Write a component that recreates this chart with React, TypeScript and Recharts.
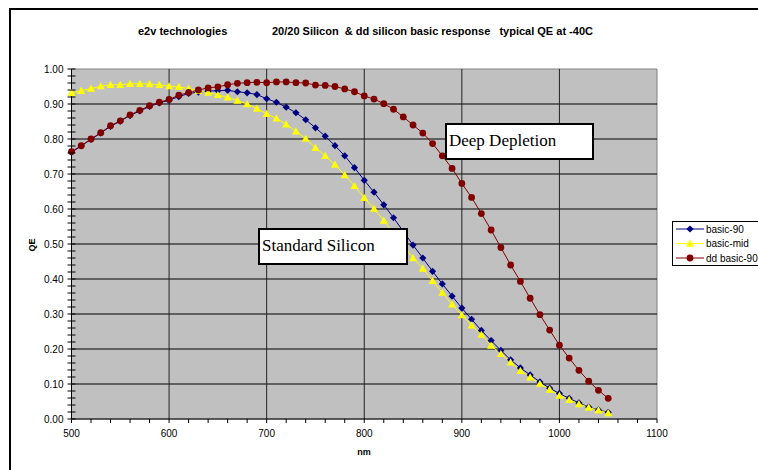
import React from "react";
import {
  LineChart,
  Line,
  XAxis,
  YAxis,
  ReferenceLine,
  ReferenceArea,
} from "recharts";

// wavelength in nm, one point every 10 nm
const wavelengths = [
  500, 510, 520, 530, 540, 550, 560, 570, 580, 590, 600, 610, 620, 630, 640, 650, 660, 670, 680, 690,
  700, 710, 720, 730, 740, 750, 760, 770, 780, 790, 800, 810, 820, 830, 840, 850, 860, 870, 880, 890,
  900, 910, 920, 930, 940, 950, 960, 970, 980, 990, 1000, 1010, 1020, 1030, 1040, 1050,
];

const basic90 = [
  0.762, 0.780, 0.799, 0.817, 0.836, 0.851, 0.867, 0.880, 0.893, 0.903, 0.911, 0.921, 0.930, 0.934, 0.937, 0.938, 0.939, 0.935, 0.932, 0.927,
  0.915, 0.905, 0.891, 0.875, 0.855, 0.832, 0.808, 0.781, 0.752, 0.718, 0.682, 0.648, 0.612, 0.575, 0.536, 0.497, 0.460, 0.422, 0.386, 0.351,
  0.317, 0.285, 0.253, 0.224, 0.196, 0.169, 0.146, 0.126, 0.106, 0.088, 0.073, 0.059, 0.046, 0.034, 0.026, 0.019,
];

const basicMid = [
  0.932, 0.938, 0.944, 0.951, 0.955, 0.955, 0.958, 0.958, 0.957, 0.955, 0.951, 0.949, 0.944, 0.938, 0.933, 0.926, 0.919, 0.910, 0.900, 0.887,
  0.872, 0.859, 0.842, 0.822, 0.801, 0.775, 0.752, 0.727, 0.697, 0.666, 0.632, 0.601, 0.567, 0.532, 0.496, 0.460, 0.430, 0.395, 0.361, 0.328,
  0.297, 0.268, 0.241, 0.210, 0.186, 0.162, 0.138, 0.119, 0.101, 0.084, 0.067, 0.055, 0.043, 0.033, 0.025, 0.017,
];

const ddBasic90 = [
  0.764, 0.781, 0.800, 0.818, 0.838, 0.852, 0.869, 0.882, 0.895, 0.905, 0.913, 0.925, 0.933, 0.940, 0.946, 0.949, 0.955, 0.959, 0.961, 0.962,
  0.961, 0.963, 0.963, 0.961, 0.960, 0.954, 0.953, 0.950, 0.943, 0.935, 0.923, 0.914, 0.901, 0.885, 0.863, 0.840, 0.817, 0.787, 0.752, 0.716,
  0.673, 0.633, 0.587, 0.540, 0.490, 0.440, 0.393, 0.345, 0.298, 0.254, 0.211, 0.174, 0.139, 0.108, 0.082, 0.059,
];

const gridX = [600, 700, 800, 900, 1000];
const gridY = [0.1, 0.2, 0.3, 0.4, 0.5, 0.6, 0.7, 0.8, 0.9];
// minor ticks every 20 nm and every 0.02 QE
const xTicks = Array.from({ length: 31 }, (_, i) => 500 + i * 20);
const yTicks = Array.from({ length: 51 }, (_, i) => Math.round(i * 2) / 100);

const data = wavelengths.map((nm, i) => ({
  nm,
  basic90: basic90[i],
  basicMid: basicMid[i],
  dd: ddBasic90[i],
}));

const BLUE = "#000080";
const YELLOW = "#FFFF00";
const RED = "#800000";

const font = "Arial, 'Liberation Sans', sans-serif";

function diamond(cx: number, cy: number, r: number) {
  return `${cx},${cy - r} ${cx + r},${cy} ${cx},${cy + r} ${cx - r},${cy}`;
}

function triangle(cx: number, cy: number, r: number) {
  return `${cx},${cy - r} ${cx + r},${cy + r * 0.8} ${cx - r},${cy + r * 0.8}`;
}

const DiamondDot = (p: any) =>
  p.cx == null ? null : <polygon key={`d-${p.index}`} points={diamond(p.cx, p.cy, 3.6)} fill={BLUE} />;

const TriangleDot = (p: any) =>
  p.cx == null ? null : <polygon key={`t-${p.index}`} points={triangle(p.cx, p.cy, 4)} fill={YELLOW} />;

const CircleDot = (p: any) =>
  p.cx == null ? null : <circle key={`c-${p.index}`} cx={p.cx} cy={p.cy} r={3.4} fill={RED} />;

const XTick = ({ x, y, payload }: any) => (
  <g>
    <line x1={x} y1={y} x2={x} y2={y + 4} stroke="#000" />
    {payload.value % 100 === 0 && (
      <text x={x} y={y + 18} textAnchor="middle" fontSize={10} fontFamily={font} fill="#000">
        {payload.value}
      </text>
    )}
  </g>
);

const YTick = ({ x, y, payload }: any) => {
  const major = Math.abs(payload.value * 10 - Math.round(payload.value * 10)) < 1e-6;
  return (
    <g>
      <line x1={x - 4} y1={y} x2={x + 4} y2={y} stroke="#000" />
      {major && (
        <text x={x - 8} y={y + 3.5} textAnchor="end" fontSize={10} fontFamily={font} fill="#000">
          {payload.value.toFixed(2)}
        </text>
      )}
    </g>
  );
};

const legendItems = [
  { name: "basic-90", color: BLUE, shape: "diamond" },
  { name: "basic-mid", color: YELLOW, shape: "triangle" },
  { name: "dd basic-90", color: RED, shape: "circle" },
];

function LegendMarker({ shape, color, cx, cy }: any) {
  if (shape === "diamond") return <polygon points={diamond(cx, cy, 3.6)} fill={color} />;
  if (shape === "triangle") return <polygon points={triangle(cx, cy, 4)} fill={color} />;
  return <circle cx={cx} cy={cy} r={3.4} fill={color} />;
}

const noteStyle: React.CSSProperties = {
  position: "absolute",
  background: "#fff",
  border: "2px solid #000",
  boxSizing: "border-box",
  fontFamily: "'Liberation Serif', 'Times New Roman', serif",
  fontSize: 17,
  lineHeight: "20px",
  padding: "6px 2px",
  whiteSpace: "nowrap",
};

export default function App() {
  return (
    <div
      style={{
        position: "absolute",
        left: 0,
        top: 0,
        width: 758,
        height: 470,
        background: "#fff",
        overflow: "hidden",
        fontFamily: font,
      }}
    >
      <div
        style={{
          position: "absolute",
          left: 9,
          top: 8,
          width: 780,
          height: 500,
          border: "2px solid #000",
        }}
      />
      <div style={{ position: "absolute", left: 0, top: 0 }}>
        <LineChart width={758} height={470} data={data} margin={{ top: 69, right: 101, left: 11.5, bottom: 0 }}>
          <ReferenceArea
            x1={500}
            x2={1100}
            y1={0}
            y2={1}
            fill="#C0C0C0"
            fillOpacity={1}
            stroke="#808080"
            strokeWidth={1}
            ifOverflow="extendDomain"
          />
          {gridY.map((v) => (
            <ReferenceLine key={`gy-${v}`} y={v} stroke="#000" strokeWidth={1} />
          ))}
          {gridX.map((v) => (
            <ReferenceLine key={`gx-${v}`} x={v} stroke="#222" strokeWidth={1} />
          ))}
          <XAxis
            dataKey="nm"
            type="number"
            domain={[500, 1100]}
            ticks={xTicks}
            interval={0}
            height={51}
            tickSize={0}
            tickMargin={0}
            tick={<XTick />}
            axisLine={{ stroke: "#000" }}
            tickLine={false}
          />
          <YAxis
            type="number"
            domain={[0, 1]}
            ticks={yTicks}
            interval={0}
            width={60}
            tickSize={0}
            tickMargin={0}
            tick={<YTick />}
            axisLine={{ stroke: "#000" }}
            tickLine={false}
          />
          <Line
            dataKey="basic90"
            stroke={BLUE}
            strokeWidth={1}
            dot={DiamondDot}
            activeDot={false}
            isAnimationActive={false}
          />
          <Line
            dataKey="basicMid"
            stroke={YELLOW}
            strokeWidth={1}
            dot={TriangleDot}
            activeDot={false}
            isAnimationActive={false}
          />
          <Line
            dataKey="dd"
            stroke={RED}
            strokeWidth={1}
            dot={CircleDot}
            activeDot={false}
            isAnimationActive={false}
          />
        </LineChart>
      </div>

      <svg
        width={758}
        height={470}
        style={{ position: "absolute", left: 0, top: 0, pointerEvents: "none" }}
      >
        <text x={138} y={35} fontSize={11} fontWeight="bold" fontFamily={font} fill="#000">
          e2v technologies
        </text>
        <text x={272} y={35} fontSize={11} fontWeight="bold" fontFamily={font} fill="#000" style={{ whiteSpace: "pre" }}>
          {"20/20 Silicon  & dd silicon basic response   typical QE at -40C"}
        </text>
        <text
          x={35}
          y={245}
          fontSize={9}
          fontWeight="bold"
          fontFamily={font}
          textAnchor="middle"
          transform="rotate(-90 35 245)"
        >
          QE
        </text>
        <text x={364} y={455} fontSize={9} fontWeight="bold" fontFamily={font} textAnchor="middle">
          nm
        </text>

        <rect x={672.5} y={221.5} width={100} height={44} fill="#fff" stroke="#000" />
        {legendItems.map((it, i) => {
          const cy = 229 + i * 14.5;
          return (
            <g key={it.name}>
              <line x1={676} y1={cy} x2={704} y2={cy} stroke={it.color} strokeWidth={1} />
              <LegendMarker shape={it.shape} color={it.color} cx={690} cy={cy} />
              <text x={706} y={cy + 3.5} fontSize={10} fontFamily={font} fill="#000">
                {it.name}
              </text>
            </g>
          );
        })}
      </svg>

      <div style={{ ...noteStyle, left: 445, top: 123, width: 149, height: 37 }}>Deep Depletion</div>
      <div style={{ ...noteStyle, left: 258, top: 228, width: 150, height: 37 }}>Standard Silicon</div>
    </div>
  );
}
